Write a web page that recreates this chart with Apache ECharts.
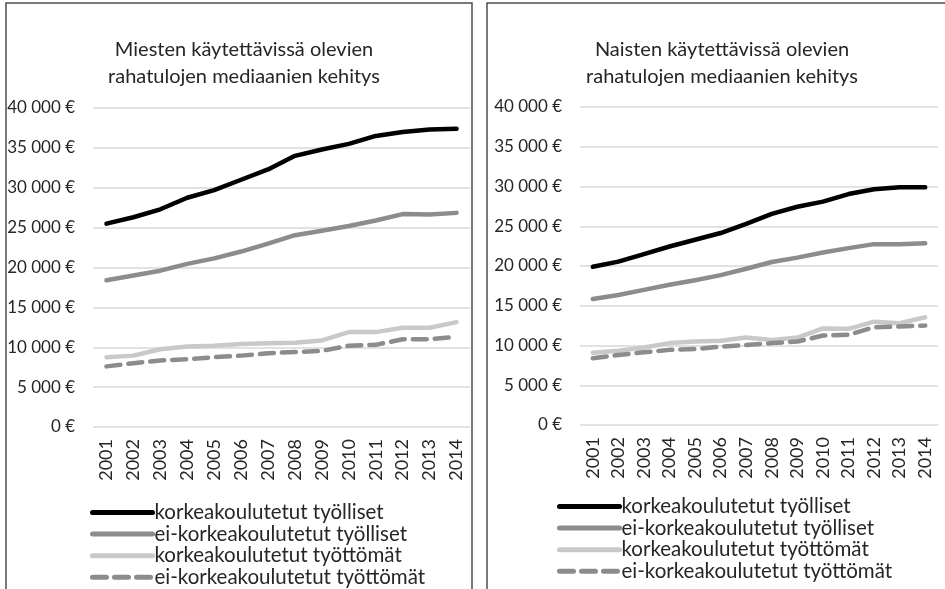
<!DOCTYPE html>
<html>
<head>
<meta charset="utf-8">
<script src="https://cdn.jsdelivr.net/npm/echarts@6/dist/echarts.min.js"></script>
<style>
  html, body { margin: 0; padding: 0; background: #fff; }
  #chart { width: 945px; height: 589px; }
</style>
</head>
<body>
<div id="chart"></div>
<script>
// vuodet
const years = ['2001', '2002', '2003', '2004', '2005', '2006', '2007',
  '2008', '2009', '2010', '2011', '2012', '2013', '2014']

const seriesNames = ['korkeakoulutetut työlliset', 'ei-korkeakoulutetut työlliset',
  'korkeakoulutetut työttömät', 'ei-korkeakoulutetut työttömät']

// miehet
const menHighEmployed = [25500, 26300, 27300, 28750, 29700, 31000, 32300,
  34000, 34800, 35500, 36500, 37000, 37300, 37400]
const menLowEmployed = [18400, 19000, 19600, 20450, 21150, 22000, 23000,
  24050, 24600, 25200, 25900, 26700, 26650, 26850]
const menHighUnemployed = [8750, 8950, 9750, 10100, 10200, 10400, 10500,
  10550, 10850, 11900, 11900, 12450, 12450, 13150]
const menLowUnemployed = [7600, 8000, 8350, 8500, 8750, 8950, 9250,
  9400, 9550, 10200, 10300, 11000, 11000, 11300]

// naiset
const womenHighEmployed = [19900, 20550, 21500, 22450, 23300, 24150, 25300,
  26550, 27450, 28100, 29050, 29650, 29900, 29900]
const womenLowEmployed = [15850, 16350, 17000, 17650, 18200, 18850, 19650,
  20500, 21050, 21700, 22250, 22750, 22750, 22850]
const womenHighUnemployed = [9100, 9350, 9750, 10300, 10500, 10600, 11000,
  10700, 11000, 12150, 12100, 13000, 12800, 13550]
const womenLowUnemployed = [8400, 8800, 9150, 9450, 9550, 9850, 10050,
  10300, 10500, 11250, 11350, 12300, 12400, 12500]

const font = 'Lato, "Liberation Sans", sans-serif'
const textColor = '#262626'

const lineStyles = [
  { color: '#000000', width: 4.5, type: 'solid' },
  { color: '#8c8c8c', width: 4.5, type: 'solid' },
  { color: '#c9c9c9', width: 4.5, type: 'solid' },
  { color: '#8c8c8c', width: 4.5, type: [14, 8] }
]

function euro(v) {
  return String(v).replace(/\B(?=(\d{3})+(?!\d))/g, ' ') + ' €'
}

function makeSeries(idx, data) {
  return data.map(function (d, i) {
    return {
      name: seriesNames[i],
      type: 'line',
      xAxisIndex: idx,
      yAxisIndex: idx,
      symbol: 'none',
      animation: false,
      lineStyle: Object.assign({ cap: 'round', join: 'round' }, lineStyles[i]),
      itemStyle: { color: lineStyles[i].color },
      data: d
    }
  })
}

function xAxisFor(idx) {
  return {
    type: 'category',
    gridIndex: idx,
    data: years,
    axisLine: { show: false },
    axisTick: { show: false },
    axisLabel: { rotate: 90, margin: 12, fontSize: 18, fontFamily: font, color: textColor }
  }
}

function yAxisFor(idx) {
  return {
    type: 'value',
    gridIndex: idx,
    min: 0,
    max: 40000,
    interval: 5000,
    axisLine: { show: false },
    axisTick: { show: false },
    axisLabel: { margin: 18, fontSize: 17, fontFamily: font, color: textColor, formatter: euro },
    splitLine: { lineStyle: { color: '#d9d9d9', width: 1.5 } }
  }
}

function legendFor(left, top) {
  return {
    orient: 'vertical',
    left: left,
    top: top,
    height: 140,
    padding: 0,
    itemWidth: 60,
    itemHeight: 14,
    itemGap: 0.6,
    data: seriesNames,
    itemStyle: { opacity: 0 },
    lineStyle: { width: 5 },
    textStyle: { fontSize: 20.5, fontFamily: font, color: textColor, padding: [0, 0, 0, -3] }
  }
}

const chart = echarts.init(document.getElementById('chart'))
chart.setOption({
  animation: false,
  graphic: [
    { type: 'rect', shape: { x: 6, y: 3, width: 466, height: 640 },
      style: { fill: 'none', stroke: '#4d4d4d', lineWidth: 1.5 } },
    { type: 'rect', shape: { x: 487, y: 3, width: 470, height: 640 },
      style: { fill: 'none', stroke: '#4d4d4d', lineWidth: 1.5 } }
  ],
  title: [
    { text: 'Miesten käytettävissä olevien\nrahatulojen mediaanien kehitys',
      left: 239, top: 31, textAlign: 'center',
      textStyle: { fontSize: 20, fontWeight: 'normal', fontFamily: font, color: textColor, lineHeight: 27 } },
    { text: 'Naisten käytettävissä olevien\nrahatulojen mediaanien kehitys',
      left: 717, top: 31, textAlign: 'center',
      textStyle: { fontSize: 20, fontWeight: 'normal', fontFamily: font, color: textColor, lineHeight: 27 } }
  ],
  legend: [legendFor(90, 502), legendFor(557, 496)],
  grid: [
    { left: 93, top: 108, width: 377, height: 319 },
    { left: 580, top: 107, width: 358, height: 318 }
  ],
  xAxis: [xAxisFor(0), xAxisFor(1)],
  yAxis: [yAxisFor(0), yAxisFor(1)],
  series: makeSeries(0, [menHighEmployed, menLowEmployed, menHighUnemployed, menLowUnemployed])
    .concat(makeSeries(1, [womenHighEmployed, womenLowEmployed, womenHighUnemployed, womenLowUnemployed]))
})
</script>
</body>
</html>
